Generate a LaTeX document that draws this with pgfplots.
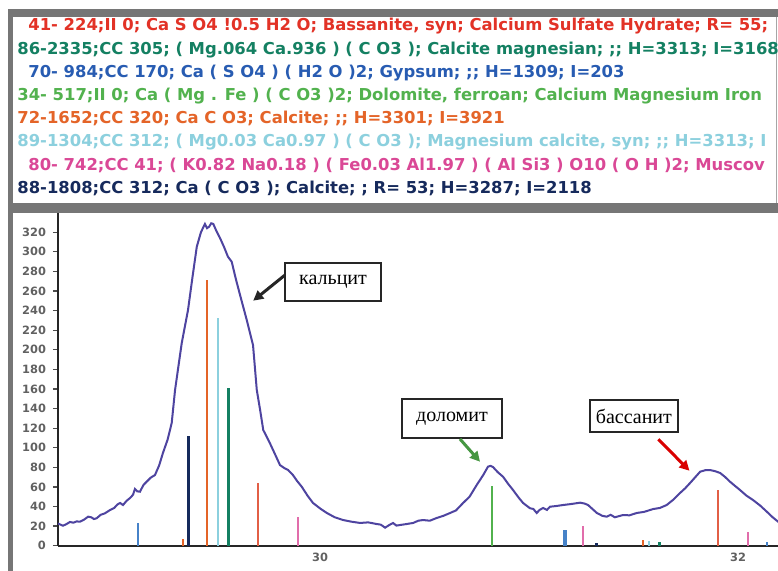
\documentclass[border=0pt]{standalone}
\usepackage{fontspec}
\setmainfont{DejaVu Sans}
\newfontfamily\boxfont{Liberation Serif}
\usepackage{pgfplots}
\pgfplotsset{compat=1.18}
\usetikzlibrary{arrows.meta}
\definecolor{cRed}{RGB}{226,50,38}
\definecolor{cTeal}{RGB}{20,128,98}
\definecolor{cBlue}{RGB}{40,92,178}
\definecolor{cBarBlue}{RGB}{70,130,200}
\definecolor{cGreen}{RGB}{82,178,78}
\definecolor{cOrange}{RGB}{228,100,40}
\definecolor{cCyan}{RGB}{140,208,222}
\definecolor{cPink}{RGB}{218,72,150}
\definecolor{cNavy}{RGB}{22,42,92}
\definecolor{cSalmon}{RGB}{226,95,70}
\definecolor{cCurve}{RGB}{78,68,160}
\definecolor{frameGray}{RGB}{118,118,118}
\begin{document}
\begin{tikzpicture}
\path[use as bounding box, clip] (0,0) rectangle (389pt,-285.5pt);
\fill[white] (0,0) rectangle (389pt,-285.5pt);
\begin{scope}[x=0.5pt,y=-0.5pt]
\fill[frameGray] (8,9) rectangle (778,17);
\fill[frameGray] (8,9) rectangle (12.5,571);
\fill[frameGray] (8,203) rectangle (778,213);
\draw[black!35, line width=0.5pt] (776.5,17) -- (776.5,203);
\begin{scope}[every node/.style={anchor=base west, inner sep=0pt, font=\fontsize{8.2}{9}\selectfont\bfseries}]
\node[text=cRed] at (28,31) {41- 224;II 0; Ca S O4 !0.5 H2 O; Bassanite, syn; Calcium Sulfate Hydrate; R= 55;};
\node[text=cTeal] at (17,54.2) {86-2335;CC 305; ( Mg.064 Ca.936 ) ( C O3 ); Calcite magnesian; ;; H=3313; I=3168};
\node[text=cBlue] at (28,77.4) {70- 984;CC 170; Ca ( S O4 ) ( H2 O )2; Gypsum; ;; H=1309; I=203};
\node[text=cGreen] at (17,100.6) {34- 517;II 0; Ca ( Mg . Fe ) ( C O3 )2; Dolomite, ferroan; Calcium Magnesium Iron};
\node[text=cOrange] at (17,123.8) {72-1652;CC 320; Ca C O3; Calcite; ;; H=3301; I=3921};
\node[text=cCyan] at (17,147) {89-1304;CC 312; ( Mg0.03 Ca0.97 ) ( C O3 ); Magnesium calcite, syn; ;; H=3313; I};
\node[text=cPink] at (28,170.2) {80- 742;CC 41; ( K0.82 Na0.18 ) ( Fe0.03 Al1.97 ) ( Al Si3 ) O10 ( O H )2; Muscov};
\node[text=cNavy] at (17,193.4) {88-1808;CC 312; Ca ( C O3 ); Calcite; ; R= 53; H=3287; I=2118};
\end{scope}
\end{scope}
\begin{axis}[
  at={(29pt,-272.85pt)}, anchor=south west,
  scale only axis, width=363.6pt, height=166.1pt,
  xmin=28.746, xmax=32.225, ymin=0, ymax=339,
  axis x line=bottom, axis y line=left,
  axis line style={-, line width=1pt, black!85},
  ytick={0,20,...,320}, xtick={30,32},
  xticklabels={30,32},
  tick align=outside, major tick length=2.5pt,
  ytick style={black!70, line width=0.6pt},
  xtick style={draw=none},
  /pgf/number format/assume math mode=true,
  tick label style={font=\fontsize{5.7}{6}\selectfont\bfseries, text=black!62},
  xticklabel style={yshift=2.2pt},
  clip=true,
]
\addplot[ycomb, no marks, cBarBlue, line width=1pt] coordinates {(29.130,23) (32.137,3.5)};
\addplot[ycomb, no marks, cBarBlue, line width=2pt] coordinates {(31.172,16)};
\addplot[ycomb, no marks, cOrange, line width=1pt] coordinates {(29.343,7) (29.460,271) (31.546,6)};
\addplot[ycomb, no marks, cNavy, line width=1.4pt] coordinates {(29.369,112) (31.323,3)};
\addplot[ycomb, no marks, cCyan, line width=1pt] coordinates {(29.513,232) (31.574,5)};
\addplot[ycomb, no marks, cTeal, line width=1.2pt] coordinates {(29.561,160.5) (31.623,4)};
\addplot[ycomb, no marks, cSalmon, line width=1pt] coordinates {(29.702,63.7) (31.905,57)};
\addplot[ycomb, no marks, cPink!80, line width=1pt] coordinates {(29.893,29.6) (31.256,20) (32.049,14)};
\addplot[ycomb, no marks, cGreen, line width=1pt] coordinates {(30.821,61)};
\addplot[cCurve, line width=1pt, no marks] coordinates {
(28.746,22.7) (28.758,21.5) (28.770,20.4) (28.786,22.0) (28.803,24.2) (28.820,23.5) (28.835,24.8) (28.851,24.5) (28.870,26.5) (28.890,29.6) (28.905,29.0) (28.918,27.2) (28.931,28.0) (28.950,31.5) (28.970,33.0) (28.995,36.4) (29.015,38.5) (29.030,42.0) (29.043,43.6) (29.057,41.5) (29.075,46.0) (29.091,48.7) (29.105,52) (29.114,57.9) (29.125,55.5) (29.138,55.1) (29.155,62) (29.170,65.3) (29.190,69.5) (29.210,72.1) (29.230,82) (29.248,94.6) (29.270,108) (29.290,125.2) (29.306,158.9) (29.338,206.8) (29.368,240.5) (29.390,275) (29.410,305.1) (29.430,320) (29.449,328.3) (29.459,324) (29.469,325.5) (29.479,329) (29.489,328.3) (29.502,322) (29.521,314) (29.540,305) (29.559,294.9) (29.577,289.8) (29.597,272) (29.617,255.8) (29.649,230.3) (29.679,204.8) (29.697,158.9) (29.713,138.5) (29.728,118) (29.745,111) (29.760,104.5) (29.785,93) (29.808,82.3) (29.830,79) (29.847,77.2) (29.870,72.1) (29.890,66) (29.912,60.2) (29.940,51) (29.966,43.6) (30.000,38) (30.032,33.4) (30.070,29) (30.110,26.2) (30.150,24.5) (30.191,23.2) (30.230,23.8) (30.271,22.1) (30.290,21.5) (30.311,18.4) (30.330,21) (30.349,23.2) (30.365,20.5) (30.382,21.1) (30.410,22.0) (30.445,23.2) (30.470,25.5) (30.492,26.2) (30.525,25.5) (30.558,28.3) (30.590,30.5) (30.622,33.4) (30.650,36) (30.684,43.6) (30.715,50) (30.749,61.9) (30.780,72) (30.803,80.6) (30.815,81.5) (30.827,80.3) (30.850,75) (30.875,70.4) (30.900,63) (30.923,56.8) (30.950,49) (30.971,43.6) (31.004,38.2) (31.020,37.5) (31.036,33.4) (31.050,36.5) (31.067,38.5) (31.085,36.5) (31.100,39.8) (31.130,40.5) (31.162,41.5) (31.200,42.5) (31.244,43.9) (31.265,43) (31.282,41.5) (31.300,38) (31.324,33.4) (31.350,30.5) (31.371,29.6) (31.390,31.5) (31.410,29.0) (31.449,31.3) (31.480,31.0) (31.515,33.4) (31.550,34.5) (31.593,37.4) (31.625,38.5) (31.658,41.5) (31.690,47) (31.722,53.8) (31.746,58.5) (31.770,64.0) (31.795,70) (31.818,75.5) (31.842,77) (31.866,77.2) (31.890,76.0) (31.914,74.2) (31.938,70) (31.961,65.3) (31.985,61) (32.009,56.8) (32.040,51) (32.071,46.6) (32.105,41) (32.137,34.7) (32.165,29) (32.191,24.5) (32.225,21)
};
\begin{scope}[every node/.style={draw=black!85, line width=1pt, fill=white, inner sep=0pt, font=\boxfont\fontsize{10}{12}\selectfont}]
\node[minimum width=48pt, minimum height=19pt] at (axis cs:30.062,269.4) {кальцит};
\node[minimum width=50.3pt, minimum height=19.2pt] at (axis cs:30.631,129.8) {доломит};
\node[minimum width=43.9pt, minimum height=15.9pt] at (axis cs:31.501,132.4) {бассанит};
\end{scope}
\draw[black!85, line width=1.5pt, -{Triangle[length=5pt,width=5pt]}] (axis cs:29.832,276.2) -- (axis cs:29.680,250);
\draw[cGreen!85!black, line width=1.5pt, -{Triangle[length=5pt,width=5pt]}] (axis cs:30.669,108.9) -- (axis cs:30.765,85.7);
\draw[red!85!black, line width=1.5pt, -{Triangle[length=5pt,width=5pt]}] (axis cs:31.618,108.6) -- (axis cs:31.767,76.5);
\end{axis}
\end{tikzpicture}
\end{document}
